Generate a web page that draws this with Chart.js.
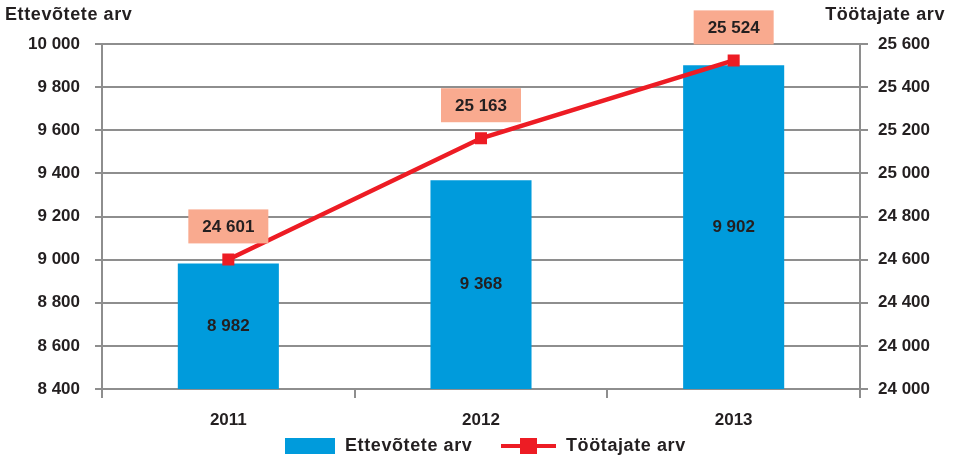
<!DOCTYPE html>
<html>
<head>
<meta charset="utf-8">
<script src="https://cdn.jsdelivr.net/npm/chart.js@4"></script>
<style>
  html, body { margin: 0; padding: 0; background: #fff; }
  #wrap { width: 955px; height: 459px; position: relative; }
</style>
</head>
<body>
<div id="wrap"><canvas id="chart" width="955" height="459"></canvas></div>
<script>
let years = ['2011', '2012', '2013'];
let ettevotted = [8982, 9368, 9902];
let tootajad = [24601, 25163, 25524];
let leftTicks = ['8 400', '8 600', '8 800', '9 000', '9 200', '9 400', '9 600', '9 800', '10 000'];
let rightTicks = ['24 000', '24 000', '24 400', '24 600', '24 800', '25 000', '25 200', '25 400', '25 600'];

let fmt = v => String(v).replace(/\B(?=(\d{3})+(?!\d))/g, ' ');
let FONT = '"Liberation Sans", Arial, sans-serif';
let gridColor = '#8e8e8e';
let textColor = '#231f20';

// labels, titles and legend drawn on top
let extras = {
    id: 'extras',
    afterDatasetsDraw(chart) {
        let ctx = chart.ctx;
        let yScale = chart.scales.y;
        ctx.save();
        ctx.font = 'bold 17px ' + FONT;
        ctx.textAlign = 'center';
        ctx.textBaseline = 'middle';
        ctx.fillStyle = textColor;

        // bar values
        ettevotted.forEach((v, i) => {
            let x = chart.scales.x.getPixelForValue(i);
            let top = yScale.getPixelForValue(v);
            let base = yScale.bottom;
            ctx.fillStyle = textColor;
            ctx.fillText(fmt(v), x, (top + base) / 2);
        });

        // line values in boxes
        chart.getDatasetMeta(1).data.forEach((pt, i) => {
            let w = 80, h = 34;
            let bx = pt.x - w / 2, by = pt.y - 16 - h;
            ctx.fillStyle = '#f9aa8f';
            ctx.fillRect(bx, by, w, h);
            ctx.fillStyle = textColor;
            ctx.fillText(fmt(tootajad[i]), pt.x, by + h / 2 + 1);
        });

        // axis titles
        ctx.font = 'bold 18px ' + FONT;
        ctx.letterSpacing = '0.6px';
        ctx.textAlign = 'left';
        ctx.fillText('Ettevõtete arv', 5, 15);
        ctx.textAlign = 'right';
        ctx.fillText('Töötajate arv', 945, 15);

        // legend
        ctx.fillStyle = '#009bdc';
        ctx.fillRect(285, 438, 50, 16);
        ctx.fillStyle = textColor;
        ctx.textAlign = 'left';
        ctx.fillText('Ettevõtete arv', 345, 446);
        ctx.strokeStyle = '#ed1c24';
        ctx.lineWidth = 4;
        ctx.beginPath();
        ctx.moveTo(501, 446);
        ctx.lineTo(556, 446);
        ctx.stroke();
        ctx.fillStyle = '#ed1c24';
        ctx.fillRect(520, 438, 17, 16);
        ctx.fillStyle = textColor;
        ctx.fillText('Töötajate arv', 566, 446);
        ctx.restore();
    }
};

let ctx = document.getElementById('chart').getContext('2d');

let chart = new Chart(ctx, {
    type: 'bar',
    data: {
        labels: years,
        datasets: [{
            label: 'Ettevõtete arv',
            data: ettevotted,
            backgroundColor: '#009bdc',
            barPercentage: 0.4,
            categoryPercentage: 1,
            yAxisID: 'y',
            order: 2
        }, {
            type: 'line',
            label: 'Töötajate arv',
            data: tootajad,
            borderColor: '#ed1c24',
            borderWidth: 4.5,
            pointStyle: 'rect',
            pointRadius: 8.5,
            pointBackgroundColor: '#ed1c24',
            pointBorderColor: '#ed1c24',
            pointBorderWidth: 0,
            tension: 0,
            yAxisID: 'y1',
            order: 1
        }]
    },
    options: {
        responsive: false,
        animation: false,
        layout: { padding: { top: 44, bottom: 0 } },
        plugins: {
            legend: { display: false },
            tooltip: { enabled: false }
        },
        scales: {
            x: {
                offset: true,
                grid: {
                    offset: true,
                    drawOnChartArea: false,
                    drawTicks: true,
                    tickLength: 9,
                    color: gridColor,
                    lineWidth: 2
                },
                border: { display: false },
                ticks: {
                    padding: 12,
                    color: textColor,
                    font: { family: FONT, size: 17, weight: 'bold' }
                },
                afterFit(scale) { scale.height = 70; }
            },
            y: {
                position: 'left',
                min: 8400,
                max: 10000,
                ticks: {
                    stepSize: 200,
                    padding: 15,
                    color: textColor,
                    font: { family: FONT, size: 17, weight: 'bold' },
                    callback: (v, i) => leftTicks[i]
                },
                grid: {
                    color: gridColor,
                    lineWidth: 2,
                    tickLength: 7
                },
                border: { color: gridColor, width: 2 },
                afterFit(scale) { scale.width = 102; }
            },
            y1: {
                position: 'right',
                min: 24000,
                max: 25600,
                ticks: {
                    stepSize: 200,
                    padding: 10,
                    color: textColor,
                    font: { family: FONT, size: 17, weight: 'bold' },
                    callback: (v, i) => rightTicks[i]
                },
                grid: {
                    drawOnChartArea: false,
                    color: gridColor,
                    lineWidth: 2,
                    tickLength: 8
                },
                border: { color: gridColor, width: 2 },
                afterFit(scale) { scale.width = 95; }
            }
        }
    },
    plugins: [extras]
});
</script>
</body>
</html>
